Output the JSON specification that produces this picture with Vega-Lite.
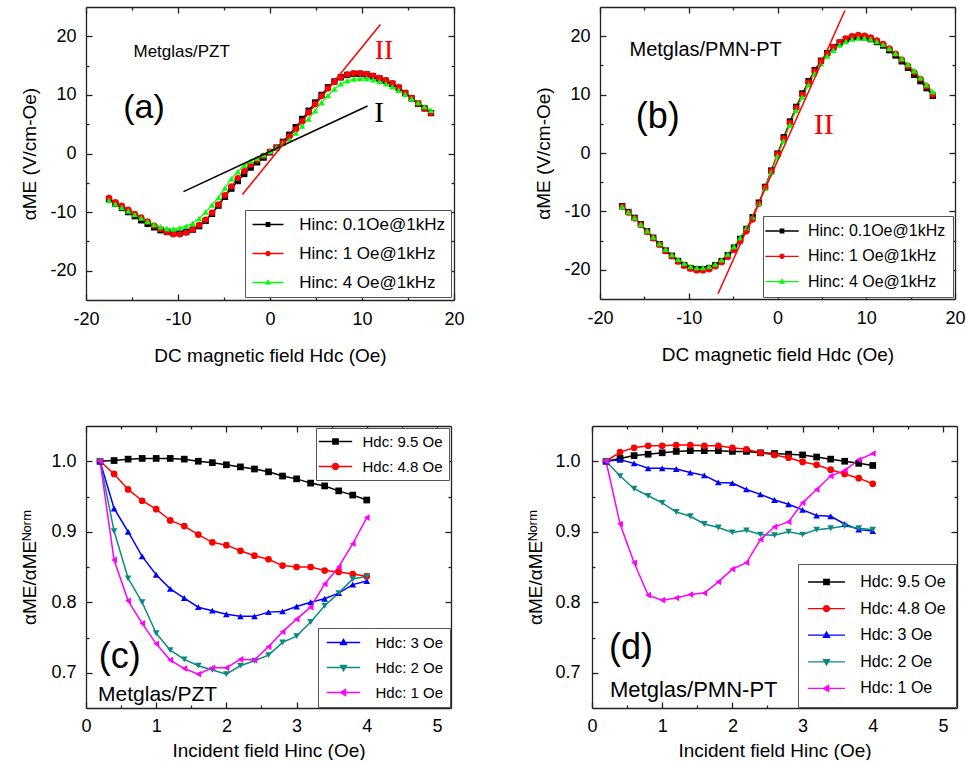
{
"$schema": "https://vega.github.io/schema/vega-lite/v6.json",
"background": "white",
"padding": {"left": 20, "top": 6, "right": 0, "bottom": 0},
"autosize": {"type": "pad"},
"datasets": {
"a": [
{"H":-17.5,"k":-7.8,"r":-7.6,"g":-8.0},{"H":-16.8,"k":-8.6,"r":-8.3,"g":-8.6},{"H":-16.1,"k":-9.3,"r":-8.9,"g":-9.2},{"H":-15.4,"k":-10.0,"r":-9.6,"g":-9.8},
{"H":-14.7,"k":-10.7,"r":-10.3,"g":-10.4},{"H":-14.0,"k":-11.4,"r":-10.9,"g":-11.0},{"H":-13.3,"k":-12.0,"r":-11.6,"g":-11.6},{"H":-12.6,"k":-12.6,"r":-12.3,"g":-12.1},
{"H":-11.9,"k":-13.1,"r":-12.9,"g":-12.5},{"H":-11.2,"k":-13.4,"r":-13.4,"g":-12.8},{"H":-10.5,"k":-13.6,"r":-13.8,"g":-12.9},{"H":-9.8,"k":-13.6,"r":-13.8,"g":-12.7},
{"H":-9.1,"k":-13.4,"r":-13.5,"g":-12.4},{"H":-8.4,"k":-13.0,"r":-13.0,"g":-11.9},{"H":-7.7,"k":-12.4,"r":-12.2,"g":-11.1},{"H":-7.0,"k":-11.5,"r":-11.3,"g":-10.0},
{"H":-6.3,"k":-10.3,"r":-10.1,"g":-8.8},{"H":-5.6,"k":-8.9,"r":-8.7,"g":-7.5},{"H":-4.9,"k":-7.4,"r":-7.1,"g":-5.9},{"H":-4.2,"k":-6.0,"r":-5.6,"g":-4.3},
{"H":-3.5,"k":-4.7,"r":-4.2,"g":-3.1},{"H":-2.8,"k":-3.5,"r":-3.0,"g":-2.0},{"H":-2.1,"k":-2.4,"r":-1.9,"g":-1.3},{"H":-1.4,"k":-1.5,"r":-1.1,"g":-0.8},
{"H":-0.7,"k":-0.7,"r":-0.4,"g":-0.2},{"H":0.0,"k":0.2,"r":0.3,"g":0.4},{"H":0.7,"k":1.0,"r":1.0,"g":1.0},{"H":1.4,"k":2.0,"r":1.9,"g":1.7},
{"H":2.1,"k":3.2,"r":2.9,"g":2.5},{"H":2.8,"k":4.5,"r":4.1,"g":3.5},{"H":3.5,"k":5.9,"r":5.5,"g":4.7},{"H":4.2,"k":7.3,"r":7.0,"g":5.9},
{"H":4.9,"k":8.7,"r":8.4,"g":7.3},{"H":5.6,"k":10.0,"r":9.8,"g":8.7},{"H":6.3,"k":11.3,"r":11.1,"g":9.9},{"H":7.0,"k":12.3,"r":12.2,"g":11.0},
{"H":7.7,"k":13.0,"r":13.0,"g":11.9},{"H":8.4,"k":13.4,"r":13.5,"g":12.4},{"H":9.1,"k":13.6,"r":13.7,"g":12.7},{"H":9.8,"k":13.6,"r":13.7,"g":12.8},
{"H":10.5,"k":13.5,"r":13.6,"g":12.8},{"H":11.2,"k":13.2,"r":13.3,"g":12.6},{"H":11.9,"k":12.8,"r":12.9,"g":12.3},{"H":12.6,"k":12.4,"r":12.5,"g":11.9},
{"H":13.3,"k":11.9,"r":12.0,"g":11.4},{"H":14.0,"k":11.2,"r":11.3,"g":10.8},{"H":14.7,"k":10.3,"r":10.4,"g":10.1},{"H":15.4,"k":9.4,"r":9.5,"g":9.4},
{"H":16.1,"k":8.5,"r":8.6,"g":8.7},{"H":16.8,"k":7.7,"r":7.7,"g":8.0},{"H":17.5,"k":6.9,"r":6.9,"g":7.4}
],
"b": [
{"H":-17.5,"k":-9.1,"r":-9.2,"g":-9.2},{"H":-16.8,"k":-10.1,"r":-10.2,"g":-10.1},{"H":-16.1,"k":-11.1,"r":-11.2,"g":-11.1},{"H":-15.4,"k":-12.2,"r":-12.3,"g":-12.2},
{"H":-14.7,"k":-13.4,"r":-13.5,"g":-13.3},{"H":-14.0,"k":-14.5,"r":-14.6,"g":-14.4},{"H":-13.3,"k":-15.6,"r":-15.7,"g":-15.5},{"H":-12.6,"k":-16.7,"r":-16.8,"g":-16.5},
{"H":-11.9,"k":-17.6,"r":-17.7,"g":-17.4},{"H":-11.2,"k":-18.5,"r":-18.6,"g":-18.2},{"H":-10.5,"k":-19.2,"r":-19.3,"g":-18.9},{"H":-9.8,"k":-19.7,"r":-19.8,"g":-19.4},
{"H":-9.1,"k":-19.9,"r":-20.1,"g":-19.6},{"H":-8.4,"k":-19.9,"r":-20.1,"g":-19.6},{"H":-7.7,"k":-19.7,"r":-19.9,"g":-19.4},{"H":-7.0,"k":-19.2,"r":-19.4,"g":-19.0},
{"H":-6.3,"k":-18.5,"r":-18.7,"g":-18.3},{"H":-5.6,"k":-17.5,"r":-17.8,"g":-17.3},{"H":-4.9,"k":-16.2,"r":-16.6,"g":-16.0},{"H":-4.2,"k":-14.7,"r":-15.1,"g":-14.5},
{"H":-3.5,"k":-13.0,"r":-13.4,"g":-12.8},{"H":-2.8,"k":-11.0,"r":-11.4,"g":-10.9},{"H":-2.1,"k":-8.5,"r":-8.7,"g":-8.6},{"H":-1.4,"k":-5.8,"r":-5.9,"g":-6.0},
{"H":-0.7,"k":-3.0,"r":-3.1,"g":-3.3},{"H":0.0,"k":-0.1,"r":-0.2,"g":-0.5},{"H":0.7,"k":2.7,"r":2.5,"g":2.1},{"H":1.4,"k":5.4,"r":5.2,"g":4.8},
{"H":2.1,"k":7.9,"r":7.7,"g":7.3},{"H":2.8,"k":10.2,"r":10.0,"g":9.6},{"H":3.5,"k":12.3,"r":12.1,"g":11.7},{"H":4.2,"k":14.2,"r":14.0,"g":13.6},
{"H":4.9,"k":15.8,"r":15.7,"g":15.3},{"H":5.6,"k":17.1,"r":17.0,"g":16.6},{"H":6.3,"k":18.1,"r":18.1,"g":17.6},{"H":7.0,"k":18.9,"r":19.0,"g":18.5},
{"H":7.7,"k":19.5,"r":19.6,"g":19.1},{"H":8.4,"k":19.8,"r":20.0,"g":19.5},{"H":9.1,"k":19.9,"r":20.2,"g":19.7},{"H":9.8,"k":19.8,"r":20.1,"g":19.7},
{"H":10.5,"k":19.5,"r":19.8,"g":19.5},{"H":11.2,"k":19.0,"r":19.3,"g":19.1},{"H":11.9,"k":18.4,"r":18.7,"g":18.6},{"H":12.6,"k":17.6,"r":17.9,"g":17.9},
{"H":13.3,"k":16.7,"r":17.0,"g":17.1},{"H":14.0,"k":15.7,"r":16.0,"g":16.2},{"H":14.7,"k":14.6,"r":14.9,"g":15.2},{"H":15.4,"k":13.4,"r":13.8,"g":14.1},
{"H":16.1,"k":12.3,"r":12.7,"g":12.9},{"H":16.8,"k":11.1,"r":11.4,"g":11.7},{"H":17.5,"k":9.8,"r":10.0,"g":10.5}
],
"c": [
{"Hinc":0.2,"k":1.000,"r":1.000,"b":1.000,"t":1.000,"m":1.000},
{"Hinc":0.4,"k":1.001,"r":0.982,"b":0.933,"t":0.901,"m":0.860},
{"Hinc":0.6,"k":1.003,"r":0.960,"b":0.900,"t":0.834,"m":0.802},
{"Hinc":0.8,"k":1.004,"r":0.944,"b":0.865,"t":0.800,"m":0.770},
{"Hinc":1.0,"k":1.004,"r":0.932,"b":0.839,"t":0.756,"m":0.741},
{"Hinc":1.2,"k":1.004,"r":0.916,"b":0.819,"t":0.732,"m":0.718},
{"Hinc":1.4,"k":1.003,"r":0.908,"b":0.806,"t":0.719,"m":0.706},
{"Hinc":1.6,"k":1.000,"r":0.896,"b":0.793,"t":0.710,"m":0.698},
{"Hinc":1.8,"k":0.998,"r":0.885,"b":0.788,"t":0.704,"m":0.707},
{"Hinc":2.0,"k":0.995,"r":0.881,"b":0.783,"t":0.698,"m":0.707},
{"Hinc":2.2,"k":0.992,"r":0.873,"b":0.780,"t":0.710,"m":0.719},
{"Hinc":2.4,"k":0.989,"r":0.866,"b":0.780,"t":0.717,"m":0.718},
{"Hinc":2.6,"k":0.985,"r":0.861,"b":0.786,"t":0.725,"m":0.737},
{"Hinc":2.8,"k":0.979,"r":0.852,"b":0.787,"t":0.743,"m":0.758},
{"Hinc":3.0,"k":0.975,"r":0.850,"b":0.794,"t":0.752,"m":0.776},
{"Hinc":3.2,"k":0.969,"r":0.850,"b":0.800,"t":0.772,"m":0.793},
{"Hinc":3.4,"k":0.965,"r":0.845,"b":0.805,"t":0.795,"m":0.826},
{"Hinc":3.6,"k":0.958,"r":0.843,"b":0.813,"t":0.813,"m":0.850},
{"Hinc":3.8,"k":0.952,"r":0.840,"b":0.825,"t":0.833,"m":0.883},
{"Hinc":4.0,"k":0.945,"r":0.837,"b":0.830,"t":0.837,"m":0.920}
],
"d": [
{"Hinc":0.2,"k":1.000,"r":1.000,"b":1.000,"t":1.000,"m":1.000},
{"Hinc":0.4,"k":1.004,"r":1.013,"b":1.002,"t":0.979,"m":0.911},
{"Hinc":0.6,"k":1.008,"r":1.019,"b":0.997,"t":0.961,"m":0.856},
{"Hinc":0.8,"k":1.010,"r":1.022,"b":0.990,"t":0.951,"m":0.810},
{"Hinc":1.0,"k":1.012,"r":1.022,"b":0.990,"t":0.941,"m":0.803},
{"Hinc":1.2,"k":1.014,"r":1.023,"b":0.989,"t":0.928,"m":0.806},
{"Hinc":1.4,"k":1.015,"r":1.023,"b":0.984,"t":0.922,"m":0.811},
{"Hinc":1.6,"k":1.015,"r":1.022,"b":0.980,"t":0.911,"m":0.813},
{"Hinc":1.8,"k":1.015,"r":1.022,"b":0.970,"t":0.906,"m":0.829},
{"Hinc":2.0,"k":1.014,"r":1.019,"b":0.969,"t":0.899,"m":0.847},
{"Hinc":2.2,"k":1.014,"r":1.017,"b":0.960,"t":0.902,"m":0.856},
{"Hinc":2.4,"k":1.012,"r":1.012,"b":0.953,"t":0.896,"m":0.889},
{"Hinc":2.6,"k":1.011,"r":1.009,"b":0.945,"t":0.895,"m":0.907},
{"Hinc":2.8,"k":1.010,"r":1.005,"b":0.939,"t":0.900,"m":0.914},
{"Hinc":3.0,"k":1.009,"r":0.999,"b":0.931,"t":0.896,"m":0.941},
{"Hinc":3.2,"k":1.006,"r":0.995,"b":0.923,"t":0.903,"m":0.960},
{"Hinc":3.4,"k":1.003,"r":0.988,"b":0.922,"t":0.905,"m":0.979},
{"Hinc":3.6,"k":1.000,"r":0.982,"b":0.911,"t":0.908,"m":0.987},
{"Hinc":3.8,"k":0.997,"r":0.976,"b":0.903,"t":0.905,"m":1.002},
{"Hinc":4.0,"k":0.994,"r":0.968,"b":0.901,"t":0.903,"m":1.011}
]
},
"vconcat": [
{"spacing": 69, "hconcat": [
{
"width": 368, "height": 293,
"layer": [
{"data": {"name": "a"}, "transform": [{"fold": ["k","r","g"], "as": ["series","alpha"]}],
 "mark": {"type": "line", "strokeWidth": 1.2},
 "encoding": {
  "x": {"field": "H", "type": "quantitative", "scale": {"domain": [-20,20], "nice": false, "zero": false},
   "axis": {"orient": "bottom", "values": [-20,-15,-10,-5,0,5,10,15,20], "title": "DC magnetic field Hdc (Oe)", "labelExpr": "datum.value % 10 === 0 ? '' + datum.value : ''", "tickSize": {"condition": {"test": "datum.value % 10 !== 0", "value": -3}, "value": -6}, "labelPadding": 16, "titlePadding": 15}},
  "y": {"field": "alpha", "type": "quantitative", "scale": {"domain": [-25,25], "nice": false, "zero": false},
   "axis": {"orient": "left", "values": [-20,-15,-10,-5,0,5,10,15,20], "title": "αME (V/cm-Oe)", "labelExpr": "datum.value % 10 === 0 ? '' + datum.value : ''", "tickSize": {"condition": {"test": "datum.value % 10 !== 0", "value": -3}, "value": -6}, "labelPadding": 16, "titlePadding": 10, "minExtent": 37, "maxExtent": 37}},
  "color": {"field": "series", "type": "nominal", "scale": {"domain": ["k","r","g"], "range": ["#000000","#ff0000","#00ff00"]}, "legend": null}
 }},
{"data": {"name": "a"}, "transform": [{"fold": ["k","r","g"], "as": ["series","alpha"]}],
 "mark": {"type": "point", "filled": true, "size": 40, "opacity": 1},
 "encoding": {
  "x": {"field": "H", "type": "quantitative", "axis": {"orient": "top", "values": [-20,-15,-10,-5,0,5,10,15,20], "labels": false, "title": null, "tickSize": {"condition": {"test": "datum.value % 10 !== 0", "value": -3}, "value": -6}}},
  "y": {"field": "alpha", "type": "quantitative", "axis": {"orient": "right", "values": [-20,-15,-10,-5,0,5,10,15,20], "labels": false, "title": null, "tickSize": {"condition": {"test": "datum.value % 10 !== 0", "value": -3}, "value": -6}}},
  "shape": {"field": "series", "type": "nominal", "scale": {"domain": ["k","r","g"], "range": ["square","circle","triangle-up"]}, "legend": null},
  "color": {"field": "series", "type": "nominal", "scale": {"domain": ["k","r","g"], "range": ["#000000","#ff0000","#00ff00"]}, "legend": null}
 }},
{"data": {"values": []},
 "mark": {"type": "point", "filled": true, "opacity": 1},
 "encoding": {
  "x": {"field": "H", "type": "quantitative", "axis": null},
  "y": {"field": "alpha", "type": "quantitative", "axis": null},
  "shape": {"field": "series", "type": "nominal", "scale": {"domain": ["k","r","g"], "range": ["M-1.94,-0.08H1.94V0.08H-1.94ZM-0.3,-0.3H0.3V0.3H-0.3Z","M-1.94,-0.08H1.94V0.08H-1.94ZM0.34,0A0.34,0.34,0,1,1,-0.34,0A0.34,0.34,0,1,1,0.34,0Z","M-1.94,-0.08H1.94V0.08H-1.94ZM0,-0.42L0.4,0.26H-0.4Z"]}, "legend": null},
  "color": {"field": "series", "type": "nominal", "scale": {"domain": ["k","r","g"], "range": ["#000000","#ff0000","#00ff00"]},
   "legend": {"orient": "bottom-right", "offset": 3, "title": null, "padding": 6, "rowPadding": 11, "labelFontSize": 17, "symbolSize": 256, "symbolStrokeWidth": 0, "symbolOffset": 8.5, "labelOffset": 22.7,
    "labelExpr": "datum.value === 'k' ? 'Hinc: 0.1Oe@1kHz' : datum.value === 'r' ? 'Hinc: 1 Oe@1kHz' : 'Hinc: 4 Oe@1kHz'"}}
 }},
{"data": {"values": [{"H": -9.4, "alpha": -6.5}, {"H": 10.6, "alpha": 8.1}]}, "mark": {"type": "line", "color": "#000000", "strokeWidth": 1.5},
 "encoding": {"x": {"field": "H", "type": "quantitative", "axis": null}, "y": {"field": "alpha", "type": "quantitative", "axis": null}}},
{"data": {"values": [{"H": -3.0, "alpha": -7.0}, {"H": 12.0, "alpha": 22.0}]}, "mark": {"type": "line", "color": "#ff0000", "strokeWidth": 1.5},
 "encoding": {"x": {"field": "H", "type": "quantitative", "axis": null}, "y": {"field": "alpha", "type": "quantitative", "axis": null}}},
{"data": {"values": [{"label": "(a)"}]}, "mark": {"type": "text", "fontSize": 34, "align": "center", "baseline": "middle"},
 "encoding": {"x": {"datum": -13.7, "type": "quantitative", "axis": null}, "y": {"datum": 7.8, "type": "quantitative", "axis": null}, "text": {"field": "label"}}},
{"data": {"values": [{"label": "Metglas/PZT"}]}, "mark": {"type": "text", "fontSize": 17, "align": "center", "baseline": "middle"},
 "encoding": {"x": {"datum": -9.6, "type": "quantitative", "axis": null}, "y": {"datum": 17.3, "type": "quantitative", "axis": null}, "text": {"field": "label"}}},
{"data": {"values": [{"label": "II"}]}, "mark": {"type": "text", "fontSize": 28, "font": "Liberation Serif", "color": "#ff0000", "align": "center", "baseline": "middle"},
 "encoding": {"x": {"datum": 12.4, "type": "quantitative", "axis": null}, "y": {"datum": 17.5, "type": "quantitative", "axis": null}, "text": {"field": "label"}}},
{"data": {"values": [{"label": "I"}]}, "mark": {"type": "text", "fontSize": 29, "font": "Liberation Serif", "color": "#000000", "align": "center", "baseline": "middle"},
 "encoding": {"x": {"datum": 11.85, "type": "quantitative", "axis": null}, "y": {"datum": 6.9, "type": "quantitative", "axis": null}, "text": {"field": "label"}}}
],
"resolve": {"scale": {"color": "independent", "shape": "independent"}, "axis": {"x": "independent", "y": "independent"}}
},
{
"width": 355, "height": 292,
"layer": [
{"data": {"name": "b"}, "transform": [{"fold": ["k","r","g"], "as": ["series","alpha"]}],
 "mark": {"type": "line", "strokeWidth": 1.2},
 "encoding": {
  "x": {"field": "H", "type": "quantitative", "scale": {"domain": [-20,20], "nice": false, "zero": false},
   "axis": {"orient": "bottom", "values": [-20,-15,-10,-5,0,5,10,15,20], "title": "DC magnetic field Hdc (Oe)", "labelExpr": "datum.value % 10 === 0 ? '' + datum.value : ''", "tickSize": {"condition": {"test": "datum.value % 10 !== 0", "value": -3}, "value": -6}, "labelPadding": 16, "titlePadding": 15}},
  "y": {"field": "alpha", "type": "quantitative", "scale": {"domain": [-25,25], "nice": false, "zero": false},
   "axis": {"orient": "left", "values": [-20,-15,-10,-5,0,5,10,15,20], "title": "αME (V/cm-Oe)", "labelExpr": "datum.value % 10 === 0 ? '' + datum.value : ''", "tickSize": {"condition": {"test": "datum.value % 10 !== 0", "value": -3}, "value": -6}, "labelPadding": 16, "titlePadding": 10, "minExtent": 37, "maxExtent": 37}},
  "color": {"field": "series", "type": "nominal", "scale": {"domain": ["k","r","g"], "range": ["#000000","#ff0000","#00ff00"]}, "legend": null}
 }},
{"data": {"name": "b"}, "transform": [{"fold": ["k","r","g"], "as": ["series","alpha"]}],
 "mark": {"type": "point", "filled": true, "size": 40, "opacity": 1},
 "encoding": {
  "x": {"field": "H", "type": "quantitative", "axis": {"orient": "top", "values": [-20,-15,-10,-5,0,5,10,15,20], "labels": false, "title": null, "tickSize": {"condition": {"test": "datum.value % 10 !== 0", "value": -3}, "value": -6}}},
  "y": {"field": "alpha", "type": "quantitative", "axis": {"orient": "right", "values": [-20,-15,-10,-5,0,5,10,15,20], "labels": false, "title": null, "tickSize": {"condition": {"test": "datum.value % 10 !== 0", "value": -3}, "value": -6}}},
  "shape": {"field": "series", "type": "nominal", "scale": {"domain": ["k","r","g"], "range": ["square","circle","triangle-up"]}, "legend": null},
  "color": {"field": "series", "type": "nominal", "scale": {"domain": ["k","r","g"], "range": ["#000000","#ff0000","#00ff00"]}, "legend": null}
 }},
{"data": {"values": []},
 "mark": {"type": "point", "filled": true, "opacity": 1},
 "encoding": {
  "x": {"field": "H", "type": "quantitative", "axis": null},
  "y": {"field": "alpha", "type": "quantitative", "axis": null},
  "shape": {"field": "series", "type": "nominal", "scale": {"domain": ["k","r","g"], "range": ["M-2.09,-0.08H2.09V0.08H-2.09ZM-0.3,-0.3H0.3V0.3H-0.3Z","M-2.09,-0.08H2.09V0.08H-2.09ZM0.34,0A0.34,0.34,0,1,1,-0.34,0A0.34,0.34,0,1,1,0.34,0Z","M-2.09,-0.08H2.09V0.08H-2.09ZM0,-0.42L0.4,0.26H-0.4Z"]}, "legend": null},
  "color": {"field": "series", "type": "nominal", "scale": {"domain": ["k","r","g"], "range": ["#000000","#ff0000","#00ff00"]},
   "legend": {"orient": "bottom-right", "offset": 2, "title": null, "padding": 7, "rowPadding": 9.3, "labelFontSize": 16, "symbolSize": 256, "symbolStrokeWidth": 0, "symbolOffset": 4, "labelOffset": 18,
    "labelExpr": "datum.value === 'k' ? 'Hinc: 0.1Oe@1kHz' : datum.value === 'r' ? 'Hinc: 1 Oe@1kHz' : 'Hinc: 4 Oe@1kHz'"}}
 }},
{"data": {"values": [{"H": -6.7, "alpha": -24.1}, {"H": 7.6, "alpha": 24.4}]}, "mark": {"type": "line", "color": "#ff0000", "strokeWidth": 1.5},
 "encoding": {"x": {"field": "H", "type": "quantitative", "axis": null}, "y": {"field": "alpha", "type": "quantitative", "axis": null}}},
{"data": {"values": [{"label": "(b)"}]}, "mark": {"type": "text", "fontSize": 36, "align": "center", "baseline": "middle"},
 "encoding": {"x": {"datum": -13.5, "type": "quantitative", "axis": null}, "y": {"datum": 6.1, "type": "quantitative", "axis": null}, "text": {"field": "label"}}},
{"data": {"values": [{"label": "Metglas/PMN-PT"}]}, "mark": {"type": "text", "fontSize": 20, "align": "center", "baseline": "middle"},
 "encoding": {"x": {"datum": -8.1, "type": "quantitative", "axis": null}, "y": {"datum": 17.6, "type": "quantitative", "axis": null}, "text": {"field": "label"}}},
{"data": {"values": [{"label": "II"}]}, "mark": {"type": "text", "fontSize": 30, "font": "Liberation Serif", "color": "#ff0000", "align": "center", "baseline": "middle"},
 "encoding": {"x": {"datum": 5.2, "type": "quantitative", "axis": null}, "y": {"datum": 4.8, "type": "quantitative", "axis": null}, "text": {"field": "label"}}}
],
"resolve": {"scale": {"color": "independent", "shape": "independent"}, "axis": {"x": "independent", "y": "independent"}}
}
]},
{"spacing": 74, "hconcat": [
{
"width": 365, "height": 282,
"layer": [
{"data": {"name": "c"}, "transform": [{"fold": ["k","r","b","t","m"], "as": ["series","ratio"]}],
 "mark": {"type": "line", "strokeWidth": 1.5},
 "encoding": {
  "x": {"field": "Hinc", "type": "quantitative", "scale": {"domain": [0,5.2], "nice": false, "zero": false},
   "axis": {"orient": "bottom", "values": [0,0.5,1,1.5,2,2.5,3,3.5,4,4.5,5], "title": "Incident field Hinc (Oe)", "labelExpr": "abs(datum.value - round(datum.value)) < 0.01 ? format(datum.value, 'd') : ''", "tickSize": {"condition": {"test": "abs(datum.value - round(datum.value)) > 0.01", "value": -3}, "value": -6}, "labelPadding": 15, "titlePadding": 3}},
  "y": {"field": "ratio", "type": "quantitative", "scale": {"domain": [0.65,1.05], "nice": false, "zero": false},
   "axis": {"orient": "left", "values": [0.7,0.75,0.8,0.85,0.9,0.95,1.0], "title": "αME/αMEᴺᵒʳᵐ", "labelExpr": "abs(datum.value*10 - round(datum.value*10)) < 0.01 ? format(datum.value, '.1f') : ''", "tickSize": {"condition": {"test": "abs(datum.value*10 - round(datum.value*10)) > 0.01", "value": -3}, "value": -6}, "labelPadding": 16, "titlePadding": 10, "minExtent": 37, "maxExtent": 37}},
  "color": {"field": "series", "type": "nominal", "scale": {"domain": ["k","r","b","t","m"], "range": ["#000000","#ff0000","#0000ff","#0a8a80","#ff00ff"]}, "legend": null}
 }},
{"data": {"name": "c"}, "transform": [{"fold": ["k","r","b","t","m"], "as": ["series","ratio"]}],
 "mark": {"type": "point", "filled": true, "size": 45, "opacity": 1},
 "encoding": {
  "x": {"field": "Hinc", "type": "quantitative", "axis": {"orient": "top", "values": [0,0.5,1,1.5,2,2.5,3,3.5,4,4.5,5], "labels": false, "title": null, "tickSize": {"condition": {"test": "abs(datum.value - round(datum.value)) > 0.01", "value": -3}, "value": -6}}},
  "y": {"field": "ratio", "type": "quantitative", "axis": {"orient": "right", "values": [0.7,0.75,0.8,0.85,0.9,0.95,1.0], "labels": false, "title": null, "tickSize": {"condition": {"test": "abs(datum.value*10 - round(datum.value*10)) > 0.01", "value": -3}, "value": -6}}},
  "shape": {"field": "series", "type": "nominal", "scale": {"domain": ["k","r","b","t","m"], "range": ["square","circle","triangle-up","triangle-down","triangle-left"]}, "legend": null},
  "color": {"field": "series", "type": "nominal", "scale": {"domain": ["k","r","b","t","m"], "range": ["#000000","#ff0000","#0000ff","#0a8a80","#ff00ff"]}, "legend": null}
 }},
{"data": {"values": []},
 "mark": {"type": "point", "filled": true, "opacity": 1},
 "encoding": {
  "x": {"field": "Hinc", "type": "quantitative", "axis": null},
  "y": {"field": "ratio", "type": "quantitative", "axis": null},
  "shape": {"field": "series", "type": "nominal", "scale": {"domain": ["k","r"], "range": ["M-2.09,-0.08H2.09V0.08H-2.09ZM-0.42,-0.42H0.42V0.42H-0.42Z","M-2.09,-0.08H2.09V0.08H-2.09ZM0.46,0A0.46,0.46,0,1,1,-0.46,0A0.46,0.46,0,1,1,0.46,0Z"]}, "legend": null},
  "color": {"field": "series", "type": "nominal", "scale": {"domain": ["k","r"], "range": ["#000000","#ff0000"]},
   "legend": {"orient": "top-right", "offset": 2, "title": null, "padding": 5.5, "rowPadding": 9, "labelFontSize": 15, "symbolSize": 256, "symbolStrokeWidth": 0, "symbolOffset": 6, "labelOffset": 19,
    "labelExpr": "datum.value === 'k' ? 'Hdc: 9.5 Oe' : 'Hdc: 4.8 Oe'"}}
 }},
{"data": {"values": []},
 "mark": {"type": "point", "filled": true, "opacity": 1},
 "encoding": {
  "x": {"field": "Hinc", "type": "quantitative", "axis": null},
  "y": {"field": "ratio", "type": "quantitative", "axis": null},
  "shape": {"field": "series", "type": "nominal", "scale": {"domain": ["b","t","m"], "range": ["M-2.09,-0.08H2.09V0.08H-2.09ZM0,-0.55L0.52,0.35H-0.52Z","M-2.09,-0.08H2.09V0.08H-2.09ZM0,0.55L-0.52,-0.35H0.52Z","M-2.09,-0.08H2.09V0.08H-2.09ZM-0.55,0L0.35,-0.52V0.52Z"]}, "legend": null},
  "color": {"field": "series", "type": "nominal", "scale": {"domain": ["b","t","m"], "range": ["#0000ff","#0a8a80","#ff00ff"]},
   "legend": {"orient": "bottom-right", "offset": 1, "title": null, "padding": 6.5, "rowPadding": 9, "labelFontSize": 15, "symbolSize": 256, "symbolStrokeWidth": 0, "symbolOffset": 11, "labelOffset": 24,
    "labelExpr": "datum.value === 'b' ? 'Hdc: 3 Oe\u00a0\u00a0\u00a0' : datum.value === 't' ? 'Hdc: 2 Oe' : 'Hdc: 1 Oe'"}}
 }},
{"data": {"values": [{"label": "(c)"}]}, "mark": {"type": "text", "fontSize": 36, "align": "center", "baseline": "middle"},
 "encoding": {"x": {"datum": 0.48, "type": "quantitative", "axis": null}, "y": {"datum": 0.723, "type": "quantitative", "axis": null}, "text": {"field": "label"}}},
{"data": {"values": [{"label": "Metglas/PZT"}]}, "mark": {"type": "text", "fontSize": 21, "align": "center", "baseline": "middle"},
 "encoding": {"x": {"datum": 1.02, "type": "quantitative", "axis": null}, "y": {"datum": 0.668, "type": "quantitative", "axis": null}, "text": {"field": "label"}}}
],
"resolve": {"scale": {"color": "independent", "shape": "independent"}, "axis": {"x": "independent", "y": "independent"}}
},
{
"width": 365, "height": 282,
"layer": [
{"data": {"name": "d"}, "transform": [{"fold": ["k","r","b","t","m"], "as": ["series","ratio"]}],
 "mark": {"type": "line", "strokeWidth": 1.5},
 "encoding": {
  "x": {"field": "Hinc", "type": "quantitative", "scale": {"domain": [0,5.2], "nice": false, "zero": false},
   "axis": {"orient": "bottom", "values": [0,0.5,1,1.5,2,2.5,3,3.5,4,4.5,5], "title": "Incident field Hinc (Oe)", "labelExpr": "abs(datum.value - round(datum.value)) < 0.01 ? format(datum.value, 'd') : ''", "tickSize": {"condition": {"test": "abs(datum.value - round(datum.value)) > 0.01", "value": -3}, "value": -6}, "labelPadding": 15, "titlePadding": 3}},
  "y": {"field": "ratio", "type": "quantitative", "scale": {"domain": [0.65,1.05], "nice": false, "zero": false},
   "axis": {"orient": "left", "values": [0.7,0.75,0.8,0.85,0.9,0.95,1.0], "title": "αME/αMEᴺᵒʳᵐ", "labelExpr": "abs(datum.value*10 - round(datum.value*10)) < 0.01 ? format(datum.value, '.1f') : ''", "tickSize": {"condition": {"test": "abs(datum.value*10 - round(datum.value*10)) > 0.01", "value": -3}, "value": -6}, "labelPadding": 18, "titlePadding": 10, "minExtent": 37, "maxExtent": 37}},
  "color": {"field": "series", "type": "nominal", "scale": {"domain": ["k","r","b","t","m"], "range": ["#000000","#ff0000","#0000ff","#0a8a80","#ff00ff"]}, "legend": null}
 }},
{"data": {"name": "d"}, "transform": [{"fold": ["k","r","b","t","m"], "as": ["series","ratio"]}],
 "mark": {"type": "point", "filled": true, "size": 45, "opacity": 1},
 "encoding": {
  "x": {"field": "Hinc", "type": "quantitative", "axis": {"orient": "top", "values": [0,0.5,1,1.5,2,2.5,3,3.5,4,4.5,5], "labels": false, "title": null, "tickSize": {"condition": {"test": "abs(datum.value - round(datum.value)) > 0.01", "value": -3}, "value": -6}}},
  "y": {"field": "ratio", "type": "quantitative", "axis": {"orient": "right", "values": [0.7,0.75,0.8,0.85,0.9,0.95,1.0], "labels": false, "title": null, "tickSize": {"condition": {"test": "abs(datum.value*10 - round(datum.value*10)) > 0.01", "value": -3}, "value": -6}}},
  "shape": {"field": "series", "type": "nominal", "scale": {"domain": ["k","r","b","t","m"], "range": ["square","circle","triangle-up","triangle-down","triangle-left"]}, "legend": null},
  "color": {"field": "series", "type": "nominal", "scale": {"domain": ["k","r","b","t","m"], "range": ["#000000","#ff0000","#0000ff","#0a8a80","#ff00ff"]}, "legend": null}
 }},
{"data": {"values": []},
 "mark": {"type": "point", "filled": true, "opacity": 1},
 "encoding": {
  "x": {"field": "Hinc", "type": "quantitative", "axis": null},
  "y": {"field": "ratio", "type": "quantitative", "axis": null},
  "shape": {"field": "series", "type": "nominal", "scale": {"domain": ["k","r","b","t","m"], "range": ["M-2.31,-0.08H2.31V0.08H-2.31ZM-0.42,-0.42H0.42V0.42H-0.42Z","M-2.31,-0.08H2.31V0.08H-2.31ZM0.46,0A0.46,0.46,0,1,1,-0.46,0A0.46,0.46,0,1,1,0.46,0Z","M-2.31,-0.08H2.31V0.08H-2.31ZM0,-0.55L0.52,0.35H-0.52Z","M-2.31,-0.08H2.31V0.08H-2.31ZM0,0.55L-0.52,-0.35H0.52Z","M-2.31,-0.08H2.31V0.08H-2.31ZM-0.55,0L0.35,-0.52V0.52Z"]}, "legend": null},
  "color": {"field": "series", "type": "nominal", "scale": {"domain": ["k","r","b","t","m"], "range": ["#000000","#ff0000","#0000ff","#0a8a80","#ff00ff"]},
   "legend": {"orient": "bottom-right", "offset": 1, "title": null, "padding": 10, "rowPadding": 10.6, "labelFontSize": 16, "symbolSize": 256, "symbolStrokeWidth": 0, "symbolOffset": 10.5, "labelOffset": 25.7,
    "labelExpr": "datum.value === 'k' ? 'Hdc: 9.5 Oe' : datum.value === 'r' ? 'Hdc: 4.8 Oe' : datum.value === 'b' ? 'Hdc: 3 Oe' : datum.value === 't' ? 'Hdc: 2 Oe' : 'Hdc: 1 Oe'"}}
 }},
{"data": {"values": [{"label": "(d)"}]}, "mark": {"type": "text", "fontSize": 36, "align": "center", "baseline": "middle"},
 "encoding": {"x": {"datum": 0.555, "type": "quantitative", "axis": null}, "y": {"datum": 0.735, "type": "quantitative", "axis": null}, "text": {"field": "label"}}},
{"data": {"values": [{"label": "Metglas/PMN-PT"}]}, "mark": {"type": "text", "fontSize": 22, "align": "center", "baseline": "middle"},
 "encoding": {"x": {"datum": 1.45, "type": "quantitative", "axis": null}, "y": {"datum": 0.675, "type": "quantitative", "axis": null}, "text": {"field": "label"}}}
],
"resolve": {"scale": {"color": "independent", "shape": "independent"}, "axis": {"x": "independent", "y": "independent"}}
}
]}
],
"spacing": 60,
"config": {
 "font": "Liberation Sans",
 "view": {"stroke": null},
 "axis": {"labelFont": "Liberation Sans", "titleFont": "Liberation Sans", "labelFontSize": 18, "titleFontSize": 19, "titleFontWeight": "normal", "labelColor": "#000000", "titleColor": "#000000", "domainColor": "#222222", "tickColor": "#222222", "domainWidth": 1.3, "tickWidth": 1.3, "grid": false, "labelFlush": false, "labelOverlap": false},
 "legend": {"labelFont": "Liberation Sans", "labelColor": "#000000", "strokeColor": "#555555", "fillColor": "#ffffff", "labelLimit": 300},
 "text": {"font": "Liberation Sans", "color": "#000000"}
}
}
